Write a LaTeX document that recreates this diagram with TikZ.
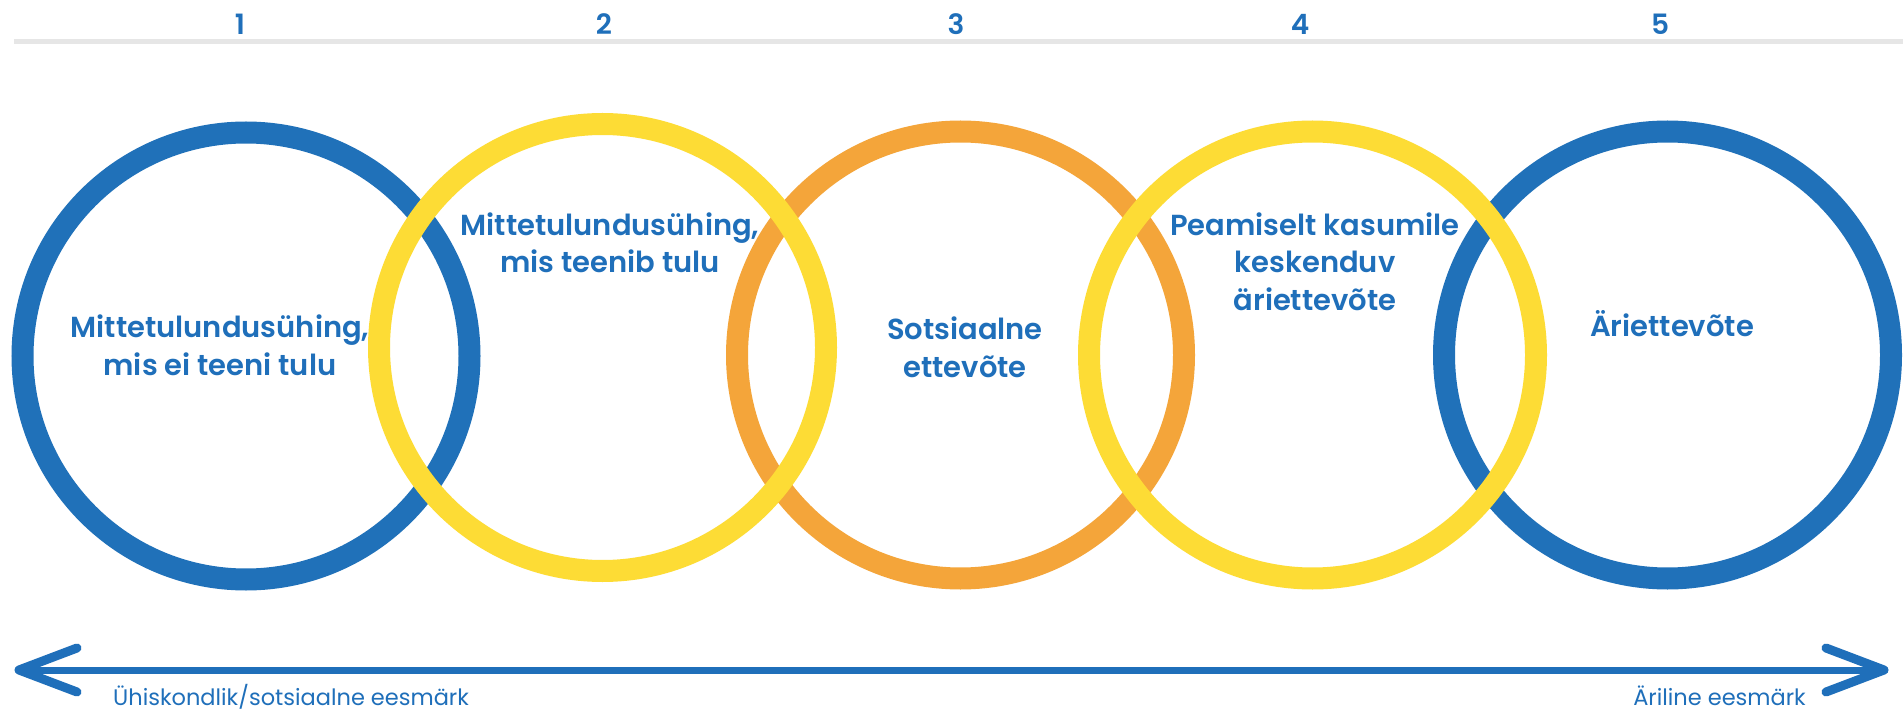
\documentclass[tikz,border=0pt]{standalone}
\usepackage{fontspec}
\setmainfont{Poppins}[BoldFont={Poppins SemiBold}]
\usetikzlibrary{calc}
\definecolor{ringblue}{HTML}{2071B9}
\definecolor{ringyellow}{HTML}{FDDC35}
\definecolor{ringorange}{HTML}{F4A53A}
\definecolor{txtblue}{HTML}{1F6FBA}
\definecolor{rulegray}{HTML}{E6E6E6}
\begin{document}
\begin{tikzpicture}[x=1pt,y=-1pt,
  ring/.style={circle, draw, line width=22pt, minimum size=447pt, inner sep=0pt},
  lbl/.style={text=txtblue, font=\bfseries\fontsize{29}{37.5}\selectfont, align=center, inner sep=0pt, anchor=base},
  num/.style={text=txtblue, font=\bfseries\fontsize{28}{32}\selectfont, inner sep=0pt},
  small/.style={text=txtblue, font=\fontsize{22.5}{26}\selectfont, inner sep=0pt, anchor=base west},
  axis/.style={draw=txtblue, line width=7pt},
  chev/.style={draw=txtblue, line width=9pt, line cap=round, line join=round}]
\useasboundingbox (0,0) rectangle (1903,711);
\fill[white] (0,0) rectangle (1903,711);
% top rule
\coordinate (ruleL) at (14,42);
\coordinate (ruleR) at (1903,42);
\draw[rulegray, line width=5pt] (ruleL) -- (ruleR);
% numbers
\node[num] (n1) at (240,24) {1};
\node[num] (n2) at (604,24) {2};
\node[num] (n3) at (956,24) {3};
\node[num] (n4) at (1300,24) {4};
\node[num] (n5) at (1660,24) {5};
% rings
\node[ring, draw=ringblue] (c1) at (246,356) {};
\node[ring, draw=ringorange] (c3) at (960.5,355) {};
\node[ring, draw=ringblue] (c5) at (1667.5,355) {};
\node[ring, draw=ringyellow] (c2) at (602.5,347.5) {};
\node[ring, draw=ringyellow] (c4) at (1312.5,355) {};
% labels (base = baseline of the last line)
\node[lbl] (t1) at (220,375) {Mittetulundusühing,\\mis ei teeni tulu};
\node[lbl] (t2) at (610,273) {Mittetulundusühing,\\mis teenib tulu};
\node[lbl] (t3) at (965,377) {Sotsiaalne\\ettevõte};
\node[lbl] (t4) at (1315,310) {Peamiselt kasumile\\keskenduv\\äriettevõte};
\node[lbl] (t5) at (1672,336) {Äriettevõte};
% axis arrow
\coordinate (aL) at (19,670);
\coordinate (aR) at (1884,670);
\draw[axis] (aL) -- (aR);
\draw[chev] ($(aL)+(58,-22)$) -- (aL) -- ($(aL)+(58,22)$);
\draw[chev] ($(aR)+(-58,-22)$) -- (aR) -- ($(aR)+(-58,22)$);
\node[small] (s1) at (113,705) {Ühiskondlik/sotsiaalne eesmärk};
\node[small, anchor=base east] (s2) at (1806,705) {Äriline eesmärk};
\end{tikzpicture}
\end{document}
